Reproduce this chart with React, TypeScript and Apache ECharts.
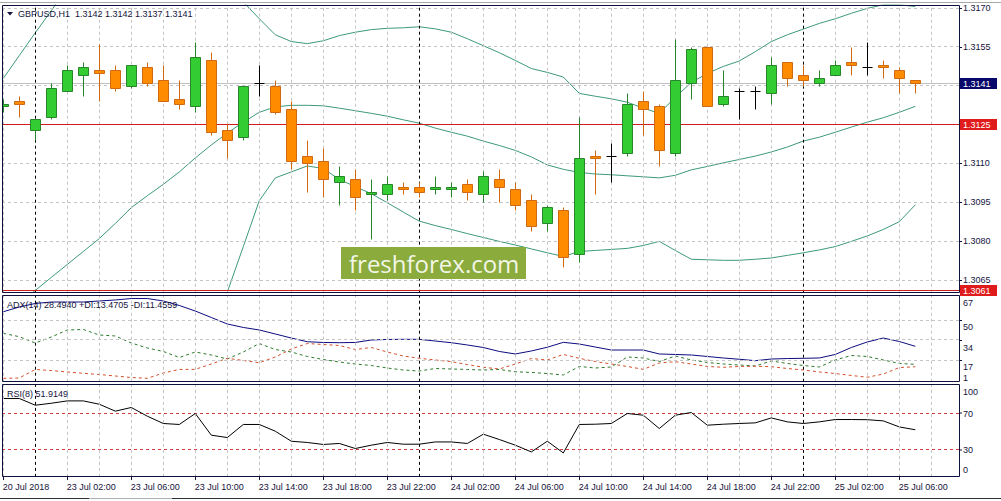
import React, { useEffect, useRef } from 'react';
import * as echarts from 'echarts';

// ---------- DATA (GBPUSD H1, 20 Jul 22:00 .. 25 Jul 07:00) ----------
const openPrices = [
  1.3132, 1.3134, 1.3123, 1.3128, 1.3138, 1.3144, 1.3146, 1.3146, 1.3140, 1.3147,
  1.3142, 1.3135, 1.3132, 1.3150, 1.3123, 1.3120, 1.3141, 1.3140, 1.3131, 1.3113,
  1.3111, 1.3103, 1.3104, 1.3098, 1.3098, 1.3101, 1.3101, 1.3100, 1.3100, 1.3102,
  1.3098, 1.3104, 1.3100, 1.3096, 1.3087, 1.3092, 1.3075, 1.3113, 1.3113, 1.3114,
  1.3134, 1.3132, 1.3114, 1.3141, 1.3155, 1.3133, 1.3138, 1.3138, 1.3137, 1.3149,
  1.3144, 1.3141, 1.3144, 1.3149, 1.3147, 1.3148, 1.3146, 1.3142,
];
const highPrices = [
  1.3135, 1.3136, 1.3127, 1.3141, 1.3148, 1.3149, 1.3156, 1.3148, 1.3148, 1.3149,
  1.3148, 1.3142, 1.3157, 1.3153, 1.3125, 1.3140, 1.3148, 1.3142, 1.3134, 1.3119,
  1.3116, 1.3109, 1.3108, 1.3104, 1.3105, 1.3103, 1.3103, 1.3105, 1.3103, 1.3104,
  1.3107, 1.3108, 1.3103, 1.3098, 1.3094, 1.3093, 1.3128, 1.3115, 1.3118, 1.3137,
  1.3138, 1.3133, 1.3158, 1.3155, 1.3155, 1.3146, 1.3139, 1.3140, 1.3151, 1.3149,
  1.3148, 1.3146, 1.3150, 1.3155, 1.3157, 1.3150, 1.3147, 1.3142,
];
const lowPrices = [
  1.3130, 1.3128, 1.3119, 1.3127, 1.3138, 1.3136, 1.3134, 1.3138, 1.3139, 1.3140,
  1.3134, 1.3131, 1.3130, 1.3121, 1.3112, 1.3119, 1.3136, 1.3129, 1.3108, 1.3099,
  1.3097, 1.3094, 1.3092, 1.3081, 1.3096, 1.3098, 1.3097, 1.3098, 1.3097, 1.3096,
  1.3095, 1.3095, 1.3092, 1.3084, 1.3084, 1.3070, 1.3072, 1.3098, 1.3103, 1.3113,
  1.3121, 1.3109, 1.3113, 1.3135, 1.3132, 1.3132, 1.3127, 1.3131, 1.3133, 1.3140,
  1.3140, 1.3140, 1.3144, 1.3144, 1.3144, 1.3143, 1.3137, 1.3137,
];
const closePrices = [
  1.3133, 1.3133, 1.3127, 1.3139, 1.3146, 1.3147, 1.3145, 1.3139, 1.3148, 1.3141,
  1.3134, 1.3133, 1.3151, 1.3122, 1.3119, 1.3140, 1.3141, 1.3130, 1.3111, 1.3110,
  1.3104, 1.3105, 1.3097, 1.3099, 1.3102, 1.3100, 1.3099, 1.3101, 1.3101, 1.3099,
  1.3105, 1.3101, 1.3094, 1.3086, 1.3093, 1.3074, 1.3112, 1.3112, 1.3113, 1.3133,
  1.3131, 1.3115, 1.3142, 1.3154, 1.3132, 1.3136, 1.3138, 1.3138, 1.3148, 1.3143,
  1.3142, 1.3143, 1.3148, 1.3148, 1.3147, 1.3147, 1.3143, 1.3141,
];

const bbUpper = [
  1.31428, 1.31516, 1.31604, 1.31689, 1.31777, 1.31853, 1.31911, 1.31949, 1.31972, 1.3198,
  1.31972, 1.31949, 1.31919, 1.3188, 1.3183, 1.31723, 1.31658, 1.31596, 1.3157, 1.31562,
  1.31573, 1.31593, 1.31606, 1.31616, 1.31621, 1.31623, 1.31627, 1.31619, 1.31606, 1.31581,
  1.31554, 1.31527, 1.31497, 1.31466, 1.31451, 1.31433, 1.3137, 1.31359, 1.31349, 1.31336,
  1.31313, 1.31293, 1.31355, 1.31412, 1.31447, 1.31474, 1.31495, 1.31531, 1.3157, 1.31596,
  1.31618, 1.3164, 1.31658, 1.31679, 1.31698, 1.31712, 1.31712, 1.31705,
];
const bbMiddle = [
  1.30511, 1.30561, 1.3061, 1.3066, 1.3071, 1.3076, 1.3081, 1.30868, 1.30929, 1.30975,
  1.31019, 1.31067, 1.31121, 1.31171, 1.31217, 1.31259, 1.31297, 1.31318, 1.31324, 1.31324,
  1.31322, 1.31313, 1.31303, 1.31293, 1.31282, 1.31268, 1.31255, 1.31236, 1.3122, 1.31205,
  1.31186, 1.31169, 1.3115, 1.31125, 1.31094, 1.31077, 1.31065, 1.31059, 1.31056, 1.31052,
  1.31048, 1.31044, 1.31054, 1.31075, 1.31088, 1.31102, 1.31115, 1.31128, 1.31144, 1.31163,
  1.31186, 1.31201, 1.3122, 1.3124, 1.31259, 1.31276, 1.31297, 1.3132,
];
const bbLower = [
  1.29594, 1.29606, 1.29617, 1.29632, 1.29644, 1.29667, 1.29709, 1.29786, 1.29886, 1.2997,
  1.30066, 1.30185, 1.30323, 1.30461, 1.30603, 1.30779, 1.30956, 1.31044, 1.31067, 1.3109,
  1.3108, 1.31038, 1.3101, 1.30983, 1.30948, 1.30912, 1.30877, 1.3086, 1.30845, 1.30829,
  1.30814, 1.30799, 1.30785, 1.3077, 1.30755, 1.30741, 1.3076, 1.30764, 1.30768, 1.30772,
  1.30783, 1.30799, 1.30764, 1.3073, 1.30728, 1.30726, 1.30726, 1.3073, 1.30735, 1.30745,
  1.30755, 1.30766, 1.30779, 1.30799, 1.3082, 1.30845, 1.30875, 1.3094,
];

const adxLine = [
  57.3, 61.25, 64.2, 65.4, 65.4, 65.4, 66.25, 67.1, 68.3, 68.3,
  66.25, 62.5, 57.9, 52.5, 47.1, 44.2, 42.1, 38.75, 35.4, 32.3,
  31.7, 31.5, 31.7, 33.75, 34.2, 34.3, 34.3, 32.9, 31.5, 29.6,
  27.5, 24.2, 22.1, 24.6, 27.7, 31.8, 30.4, 27.9, 25.4, 25.4,
  25.4, 22.1, 21.7, 21.25, 20, 18.75, 17.7, 16.5, 17.9, 18.3,
  18.5, 18.75, 21.7, 27.5, 32.1, 35.4, 32.5, 28.494,
];
const plusDI = [
  39.3, 36.5, 31.25, 36.25, 42.1, 42.5, 37.9, 37.1, 31.25, 27.1,
  24.2, 19.2, 23.75, 21.25, 17.9, 23.75, 30.8, 25.8, 23.75, 20,
  17.5, 15.4, 13.75, 12.5, 10.4, 8.75, 7.9, 10, 9.6, 9.2,
  8.75, 9.2, 7.3, 6.7, 5.8, 4.6, 11.7, 10.4, 11.25, 19.6,
  18.75, 15.8, 20.4, 17.1, 15, 13.75, 12.9, 12.1, 16.25, 14.2,
  12.5, 11.25, 17.1, 20.8, 20, 17.1, 14.2, 13.4705,
];
const minusDI = [
  1.8, 2.1, 9.2, 8.3, 7.1, 6, 5, 3.75, 2.5, 1.8,
  6.25, 9.2, 9.3, 13.75, 18.5, 16.7, 14.8, 19.6, 26.25, 30.8,
  30, 29.2, 25.8, 27.5, 23.75, 20.4, 18.5, 17.1, 15.7, 13.3,
  11, 9.6, 13.75, 18.3, 17.1, 21.7, 18.5, 15.8, 13.75, 11.7,
  9.3, 14.6, 15.7, 13.75, 11.7, 11, 11.7, 11.9, 11.5, 10,
  8.75, 7.1, 5.8, 4.2, 2.7, 5.4, 10.8, 11.4559,
];
const rsiLine = [
  86.7, 86.7, 79.2, 81.4, 84, 84, 80.3, 72.6, 76.7, 67,
  58.9, 57.8, 70, 45.9, 43.3, 57.8, 57.8, 50.3, 39.2, 37.8,
  35.6, 36.7, 31.1, 34.8, 37.8, 35.9, 35.9, 38.4, 38.4, 36.7,
  47, 41.1, 34.8, 27.3, 39.2, 26.2, 57.8, 58.1, 58.9, 70,
  68.1, 53.3, 68.1, 71.1, 57, 58.1, 58.9, 59.6, 65.1, 60.7,
  58.9, 60.7, 63.3, 63.3, 63.1, 61.8, 55.1, 51.9149,
];

const xTickBars = [0, 4, 8, 12, 16, 20, 24, 28, 32, 36, 40, 44, 48, 52, 56];
const xTickLabels = [
  '20 Jul 2018', '23 Jul 02:00', '23 Jul 06:00', '23 Jul 10:00', '23 Jul 14:00',
  '23 Jul 18:00', '23 Jul 22:00', '24 Jul 02:00', '24 Jul 06:00', '24 Jul 10:00',
  '24 Jul 14:00', '24 Jul 18:00', '24 Jul 22:00', '25 Jul 02:00', '25 Jul 06:00',
];
const gridBars = [0, 2, 4, 6, 8, 10, 12, 14, 16, 18, 20, 22, 24, 26, 28, 30, 32, 34, 36, 38, 40, 42, 44, 46, 48, 50, 52, 54, 56, 58];
const daySeparatorBars = [2, 26, 50];

const priceGridValues = [1.317, 1.3155, 1.314, 1.3125, 1.311, 1.3095, 1.308, 1.3065];
const priceTickValues = [1.317, 1.3155, 1.311, 1.3095, 1.308, 1.3065];
const priceTickLabels = ['1.3170', '1.3155', '1.3110', '1.3095', '1.3080', '1.3065'];
const bidPrice = 1.3141;
const levelPrices = [1.3125, 1.3061];
const adxTickValues = [67, 50, 34, 17, 1];
const adxTickLabels = ['67', '50', '34', '17', '1'];
const adxGridValues = [50, 34, 17];
const rsiTickValues = [100, 70, 30, 0];
const rsiTickLabels = ['100', '70', '30', '0'];
const rsiLevels = [70, 30];

const mainTitle = 'GBPUSD,H1  1.3142 1.3142 1.3137 1.3141';
const adxTitle = 'ADX(14) 28.4940 +DI:13.4705 -DI:11.4559';
const rsiTitle = 'RSI(8) 51.9149';
const watermark = 'freshforex.com';

// ---------- STYLE ----------
const X_MIN = -0.08125;
const X_MAX = 59.73125;
const FONT = 'Liberation Sans';
const TXT = '#14143c';
const FRAME = '#10103c';
const GRID_C = '#c4c4c4';
const UP_FILL = '#33cc33';
const UP_EDGE = '#27862a';
const DN_FILL = '#ff8c00';
const DN_EDGE = '#cf6a10';
const BAND_C = '#3d9a78';
const RED = '#d01c1c';
const RSI_LEVEL = '#d23c3c';

export default function App() {
  const ref = useRef<HTMLDivElement>(null);

  useEffect(() => {
    const chart = echarts.init(ref.current as HTMLDivElement, null, { renderer: 'svg' });
    const pairs = (arr: number[]) => arr.map((v, k) => [k, v]);
    const candleData = closePrices.map((c, k) => [k, openPrices[k], c, lowPrices[k], highPrices[k]]);

    const vLines = () => [
      ...gridBars
        .filter((k) => !daySeparatorBars.includes(k))
        .map((k) => ({ xAxis: k, lineStyle: { color: GRID_C, type: [3, 3], width: 1 } })),
      ...daySeparatorBars.map((k) => ({ xAxis: k, lineStyle: { color: '#000000', type: [3, 3], width: 1 } })),
    ];
    const mk = (data: any[]) => ({
      silent: true,
      symbol: ['none', 'none'],
      precision: 6,
      label: { show: false },
      emphasis: { disabled: true },
      animation: false,
      data,
    });

    const line = (data: number[], gi: number, color: string, dashed: boolean, extra: any = {}) => ({
      type: 'line',
      xAxisIndex: gi,
      yAxisIndex: gi,
      data: pairs(data),
      showSymbol: false,
      symbol: 'none',
      silent: true,
      lineStyle: { color, width: 1, type: dashed ? [3, 3] : 'solid' },
      z: 3,
      ...extra,
    });

    const levelSeries = rsiLevels.map((v) => ({
      type: 'line',
      xAxisIndex: 2,
      yAxisIndex: 2,
      data: [[X_MIN, v], [X_MAX, v]],
      showSymbol: false,
      symbol: 'none',
      silent: true,
      z: 2,
      lineStyle: { color: RSI_LEVEL, width: 1, type: [3, 3] },
    }));

    const option: any = {
      animation: false,
      backgroundColor: '#ffffff',
      grid: [
        { left: 2, top: 5, width: 957, height: 287.7 },
        { left: 2, top: 295.5, width: 957, height: 86.2 },
        { left: 2, top: 384.5, width: 957, height: 92.4 },
      ],
      xAxis: [0, 1, 2].map((i) => ({ type: 'value', gridIndex: i, min: X_MIN, max: X_MAX, show: false })),
      yAxis: [
        { type: 'value', gridIndex: 0, min: 1.30601, max: 1.31711, show: false },
        { type: 'value', gridIndex: 1, min: -1, max: 70.83, show: false },
        { type: 'value', gridIndex: 2, min: -0.44, max: 102.22, show: false },
      ],
      series: [
        line(bbUpper, 0, BAND_C, false, {
          markLine: mk([
            ...vLines(),
            ...priceGridValues.map((v) => ({ yAxis: v, lineStyle: { color: GRID_C, type: [3, 3], width: 1 } })),
            { yAxis: bidPrice, lineStyle: { color: '#c0c0c0', type: 'solid', width: 1 } },
            ...levelPrices.map((v) => ({ yAxis: v, lineStyle: { color: RED, type: 'solid', width: 1 } })),
          ]),
        }),
        line(bbMiddle, 0, BAND_C, false),
        line(bbLower, 0, BAND_C, false),
        {
          type: 'custom',
          xAxisIndex: 0,
          yAxisIndex: 0,
          z: 10,
          silent: true,
          clip: true,
          data: candleData,
          encode: { x: 0, y: [1, 2, 3, 4] },
          renderItem: (params: any, api: any) => {
            const k = api.value(0);
            const o = api.value(1);
            const c = api.value(2);
            const l = api.value(3);
            const h = api.value(4);
            const pO = api.coord([k, o]);
            const pC = api.coord([k, c]);
            const pL = api.coord([k, l]);
            const pH = api.coord([k, h]);
            const cx = Math.round(pO[0]) + 0.5;
            const left = Math.round(pO[0] - 5) + 0.5;
            const yT = Math.round(Math.min(pO[1], pC[1])) + 0.5;
            const yB = Math.round(Math.max(pO[1], pC[1])) + 0.5;
            const up = c > o;
            const dn = c < o;
            const fill = up ? UP_FILL : dn ? DN_FILL : '#000000';
            const edge = up ? UP_EDGE : dn ? DN_EDGE : '#000000';
            const children: any[] = [
              {
                type: 'line',
                shape: { x1: cx, y1: Math.round(pH[1]) + 0.5, x2: cx, y2: Math.round(pL[1]) + 0.5 },
                style: { stroke: edge, lineWidth: 1 },
              },
            ];
            if (yB - yT < 0.5) {
              children.push({
                type: 'line',
                shape: { x1: left, y1: yT, x2: left + 10, y2: yT },
                style: { stroke: edge, lineWidth: 1 },
              });
            } else {
              children.push({
                type: 'rect',
                shape: { x: left, y: yT, width: 10, height: yB - yT },
                style: { fill, stroke: edge, lineWidth: 1 },
              });
            }
            return { type: 'group', children };
          },
        },
        line(adxLine, 1, '#0c0c80', false, {
          markLine: mk([
            ...vLines(),
            ...adxGridValues.map((v) => ({ yAxis: v, lineStyle: { color: GRID_C, type: [3, 3], width: 1 } })),
          ]),
        }),
        line(plusDI, 1, '#2d7a2d', true),
        line(minusDI, 1, '#d2502e', true),
        ...levelSeries,
        line(rsiLine, 2, '#000000', false, {
          markLine: mk(vLines()),
        }),
      ],
    };

    chart.setOption(option);

    // ----- overlay texts / frames positioned through the axes' scales -----
    const px = (k: number) => chart.convertToPixel({ xAxisIndex: 0 }, k) as number;
    const py = (ai: number, v: number) => chart.convertToPixel({ yAxisIndex: ai }, v) as number;
    const txt = (x: number, y: number, text: string, extra: any = {}, z = 100) => ({
      type: 'text',
      x,
      y,
      z,
      silent: true,
      style: {
        text,
        fill: TXT,
        fontFamily: FONT,
        fontSize: 9,
        align: 'left',
        verticalAlign: 'middle',
        ...extra,
      },
    });
    const hline = (x1: number, x2: number, y: number, stroke: string, z = 100) => ({
      type: 'line',
      z,
      silent: true,
      shape: { x1, y1: y, x2, y2: y },
      style: { stroke, lineWidth: 1 },
    });
    const frame = (y1: number, y2: number) => ({
      type: 'rect',
      z: 100,
      silent: true,
      shape: { x: 2.5, y: y1, width: 957, height: y2 - y1 },
      style: { fill: 'none', stroke: FRAME, lineWidth: 1 },
    });
    const box = (v: number, label: string, color: string) => {
      const y = Math.round(py(0, v));
      return [
        {
          type: 'rect',
          z: 110,
          silent: true,
          shape: { x: 960, y: y - 5, width: 37, height: 11 },
          style: { fill: color },
        },
        txt(963, y + 0.5, label, { fill: '#ffffff' }, 111),
      ];
    };

    const adxDy = [2.6, 6.5, 8, 7, -1];
    const rsiDy = [5.2, 0.5, 0.5, -6.5];

    const elements: any[] = [
      { type: 'rect', z: 95, silent: true, shape: { x: 0, y: 0, width: 2, height: 480 }, style: { fill: '#ffffff' } },
      hline(0, 1001, 2.5, '#a8a8a8'),
      frame(5.5, 292.5),
      frame(295.5, 381.5),
      frame(384.5, 476.5),
      hline(0, 1001, 498.5, '#303030'),
      hline(89, 172, 498.5, '#b0b0b0', 101),
      {
        type: 'polygon',
        z: 100,
        silent: true,
        shape: { points: [[7, 12], [13, 12], [10, 15.5]] },
        style: { fill: TXT },
      },
      txt(18, 14, mainTitle),
      txt(7, 305, adxTitle),
      txt(7, 394, rsiTitle),
      {
        type: 'rect',
        z: 100,
        silent: true,
        shape: { x: 341, y: 247, width: 185, height: 32 },
        style: { fill: '#8bab3c' },
      },
      {
        type: 'text',
        z: 101,
        silent: true,
        x: 349,
        y: 263,
        style: {
          text: watermark,
          fill: '#f2f6e6',
          fontFamily: 'Open Sans',
          fontSize: 24,
          align: 'left',
          verticalAlign: 'middle',
        },
      },
    ];

    priceGridValues.forEach((v) => elements.push(hline(959, 962, Math.round(py(0, v)) + 0.5, FRAME)));
    priceTickValues.forEach((v, i) => {
      elements.push(txt(963, py(0, v), priceTickLabels[i]));
    });
    elements.push(...box(bidPrice, bidPrice.toFixed(4), '#08086a'));
    levelPrices.forEach((v) => elements.push(...box(v, v.toFixed(4), '#e01b1b')));

    adxTickValues.forEach((v, i) => {
      elements.push(txt(963, py(1, v) + adxDy[i], adxTickLabels[i]));
    });
    adxGridValues.forEach((v) => elements.push(hline(959, 962, Math.round(py(1, v)) + 0.5, FRAME)));
    rsiTickValues.forEach((v, i) => {
      elements.push(txt(963, py(2, v) + rsiDy[i], rsiTickLabels[i]));
    });
    rsiLevels.forEach((v) => elements.push(hline(959, 962, Math.round(py(2, v)), FRAME)));

    xTickBars.forEach((k, i) => {
      const x = px(k);
      elements.push(txt(x - 0.5, 487, xTickLabels[i]));
      elements.push({
        type: 'line',
        z: 100,
        silent: true,
        shape: { x1: Math.round(x) + 0.5, y1: 476.5, x2: Math.round(x) + 0.5, y2: 480 },
        style: { stroke: FRAME, lineWidth: 1 },
      });
    });

    chart.setOption({ graphic: { elements } });

    return () => {
      chart.dispose();
    };
  }, []);

  return (
    <div
      ref={ref}
      style={{ position: 'absolute', left: 0, top: 0, width: 1001, height: 501, background: '#ffffff' }}
    />
  );
}
